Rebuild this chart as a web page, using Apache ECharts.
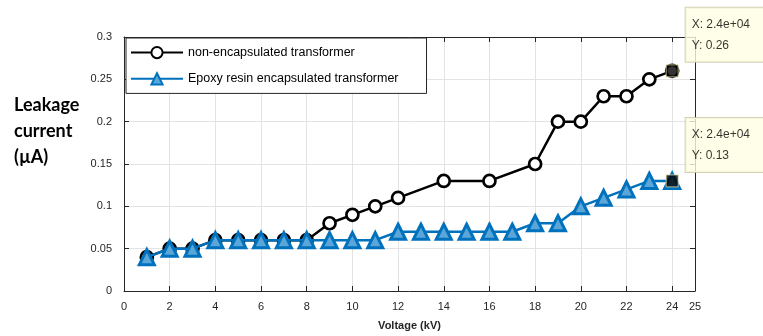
<!DOCTYPE html>
<html><head><meta charset="utf-8">
<script src="https://cdn.jsdelivr.net/npm/echarts@6/dist/echarts.min.js"></script>
<style>html,body{margin:0;padding:0;background:#fff}#c{width:763px;height:336px}</style>
</head><body><div id="c"></div>
<script>
const nonEncX = [1,2,3,4,5,6,7,8,9,10,11,12,14,16,18,19,20,21,22,23,24];
const nonEncY = [0.04,0.05,0.05,0.06,0.06,0.06,0.06,0.06,0.08,0.09,0.10,0.11,0.13,0.13,0.15,0.20,0.20,0.23,0.23,0.25,0.26];
const epoxyX = [1,2,3,4,5,6,7,8,9,10,11,12,13,14,15,16,17,18,19,20,21,22,23,24];
const epoxyY = [0.04,0.05,0.05,0.06,0.06,0.06,0.06,0.06,0.06,0.06,0.06,0.07,0.07,0.07,0.07,0.07,0.07,0.08,0.08,0.10,0.11,0.12,0.13,0.13];
const tipPoints = [[24,0.26,'X: 2.4e+04','Y: 0.26'],[24,0.13,'X: 2.4e+04','Y: 0.13']];
const seriesNames = ['non-encapsulated transformer','Epoxy resin encapsulated transformer'];

const chart = echarts.init(document.getElementById('c'));
const axisCol = '#262626';
const font = 'Liberation Sans, Arial, sans-serif';
const zip = (xs, ys) => xs.map((x,i)=>[x, ys[i]]);
chart.setOption({
  animation:false,
  grid:{left:124,right:68,top:37,bottom:42},
  legend:{
    orient:'vertical', left:126, top:38,
    padding:[8,28,8,4], itemGap:13, itemWidth:52, itemHeight:14,
    backgroundColor:'#fff', borderColor:axisCol, borderWidth:1,
    textStyle:{fontFamily:font, fontSize:12.5, color:'#000'},
    data:seriesNames
  },
  xAxis:[{
    type:'value', min:0, max:25, interval:2,
    name:'Voltage (kV)', nameLocation:'middle', nameGap:29,
    nameTextStyle:{fontFamily:font, fontSize:11, fontWeight:'bold', color:axisCol},
    axisLine:{show:true, onZero:false, lineStyle:{color:axisCol}},
    axisTick:{show:true, inside:true, length:5, lineStyle:{color:axisCol}},
    axisLabel:{fontFamily:font, fontSize:11, color:axisCol, margin:10},
    splitLine:{show:true, lineStyle:{color:'#e3e3e3'}}
  },{
    type:'value', min:0, max:25, interval:2, position:'top',
    axisLine:{show:true, onZero:false, lineStyle:{color:axisCol}},
    axisTick:{show:true, inside:true, length:5, lineStyle:{color:axisCol}},
    axisLabel:{show:false}, splitLine:{show:false}
  }],
  yAxis:[{
    type:'value', min:0, max:0.3, interval:0.05,
    axisLine:{show:true, onZero:false, lineStyle:{color:axisCol}},
    axisTick:{show:true, inside:true, length:5, lineStyle:{color:axisCol}},
    axisLabel:{fontFamily:font, fontSize:11, color:axisCol, margin:12},
    splitLine:{show:true, lineStyle:{color:'#e3e3e3'}}
  },{
    type:'value', min:0, max:0.3, interval:0.05, position:'right',
    axisLine:{show:true, onZero:false, lineStyle:{color:axisCol}},
    axisTick:{show:true, inside:true, length:5, lineStyle:{color:axisCol}},
    axisLabel:{show:false}, splitLine:{show:false}
  }],
  graphic:[{
    type:'text', left:14, top:92,
    style:{text:'Leakage\ncurrent\n(µA)', font:'bold 18px Lato, "Open Sans", sans-serif', fill:'#000', align:'center', lineHeight:26}
  }],
  series:[{
    name:seriesNames[0], type:'line', data:zip(nonEncX, nonEncY),
    symbol:'circle', symbolSize:12, showAllSymbol:true,
    lineStyle:{color:'#000', width:2.5},
    itemStyle:{color:'#fff', borderColor:'#000', borderWidth:2.7},
    z:2
  },{
    name:seriesNames[1], type:'line', data:zip(epoxyX, epoxyY),
    symbol:'triangle', symbolSize:15, showAllSymbol:true,
    lineStyle:{color:'#0072BD', width:2.5},
    itemStyle:{color:'#5aa6d8', borderColor:'#0072BD', borderWidth:3},
    z:3
  },{
    type:'scatter', data:tipPoints.map(p=>({value:[p[0],p[1]], tip:p[2]+'\n'+p[3]})),
    symbol:'rect', symbolSize:12,
    itemStyle:{color:'#000', borderColor:'#e0d8a8', borderWidth:1},
    label:{show:true, position:'right', offset:[2,-36], align:'left', verticalAlign:'middle',
      formatter:(p)=>p.data.tip,
      fontFamily:font, fontSize:12, color:'#000', lineHeight:21,
      backgroundColor:'#ffffe4', borderColor:'#c9c5a5', borderWidth:1,
      padding:[6,30,6,6]},
    z:10, zlevel:1, silent:true
  }]
});
</script></body></html>
